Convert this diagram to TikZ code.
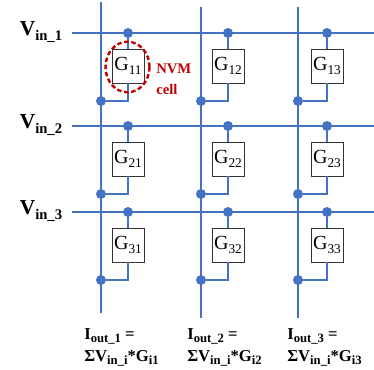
\documentclass[tikz,border=0pt]{standalone}
\usepackage{fontspec}
\setmainfont{Liberation Serif}
\usetikzlibrary{positioning,shapes.geometric}
\definecolor{wire}{RGB}{68,114,196}
\definecolor{brick}{RGB}{192,0,0}
\newcommand{\cellidx}[1]{\raisebox{-3pt}{\fontsize{10}{10}\selectfont #1}}
\newcommand{\vinidx}[1]{\raisebox{-4pt}{\fontsize{11}{11}\selectfont #1}}
\newcommand{\ioutidx}[1]{\raisebox{-2.5pt}{\fontsize{9.5}{9.5}\selectfont #1}}
\tikzset{
  line/.style={draw=wire,line width=#1},
  line/.default=2.1pt,
  stub/.style={draw=wire,line width=1.6pt},
  dot/.style={circle,fill=wire,inner sep=0pt,minimum size=7.5pt},
  cell/.style={draw=black!80,fill=white,line width=0.6pt,minimum width=24pt,minimum height=25.5pt,inner sep=0pt,font=\fontsize{15}{15}\selectfont},
  vin/.style={font=\fontsize{16}{16}\selectfont\bfseries,inner sep=0pt},
  iout/.style={font=\fontsize{12.5}{16.5}\selectfont\bfseries,align=left,anchor=north west,inner sep=0pt},
}
\begin{document}
\begin{tikzpicture}[x=0.75pt,y=-0.75pt]
  \useasboundingbox (0,0) rectangle (374,370);
  % word lines
  \foreach \r/\y/\w in {1/33/1.7pt,2/126/2.1pt,3/212/2.1pt} {
    \coordinate (ls\r) at (72,\y);
    \coordinate (le\r) at (374,\y);
    \draw[line=\w] (ls\r) -- (le\r);
  }
  % bit lines
  \foreach \c/\x/\t/\b in {1/101/2/313,2/201/7/318,3/298/7/318} {
    \coordinate (bt\c) at (\x,\t);
    \coordinate (bb\c) at (\x,\b);
    \draw[line] (bt\c) -- (bb\c);
  }
  % cells
  \foreach \r/\y in {1/33,2/126,3/212} {
    \foreach \c/\x/\cx in {1/101/128,2/201/228,3/298/327} {
      \node[dot] (t\r\c) at (\cx,\y) {};
      \node[cell] (g\r\c) at (\cx,\y+33) {G\cellidx{\r\c}};
      \node[dot] (o\r\c) at (\x,\y+68) {};
      \draw[stub] (t\r\c) -- (g\r\c);
      \draw[stub] (g\r\c.south) |- (o\r\c);
    }
  }
  % labels
  \node[vin] (v1) at (41,32) {V\vinidx{in\_1}};
  \node[vin] (v2) at (41,125) {V\vinidx{in\_2}};
  \node[vin] (v3) at (41,211) {V\vinidx{in\_3}};
  \node[iout] (i1) at (84,328) {I\ioutidx{out\_1} =\\ΣV\ioutidx{in\_i}*G\ioutidx{i1}};
  \node[iout] (i2) at (187,328) {I\ioutidx{out\_2} =\\ΣV\ioutidx{in\_i}*G\ioutidx{i2}};
  \node[iout] (i3) at (287,328) {I\ioutidx{out\_3} =\\ΣV\ioutidx{in\_i}*G\ioutidx{i3}};
  % highlighted cell
  \node[ellipse,draw=brick,dash pattern=on 3.4pt off 2pt,line width=1.8pt,minimum width=33pt,minimum height=38pt,inner sep=0pt] (nvm) at (127.5,67) {};
  \node[font=\fontsize{11}{16}\selectfont\bfseries,text=brick,align=left,anchor=west,inner sep=0pt] (lbl) at (156,79) {NVM\\cell};
\end{tikzpicture}
\end{document}
